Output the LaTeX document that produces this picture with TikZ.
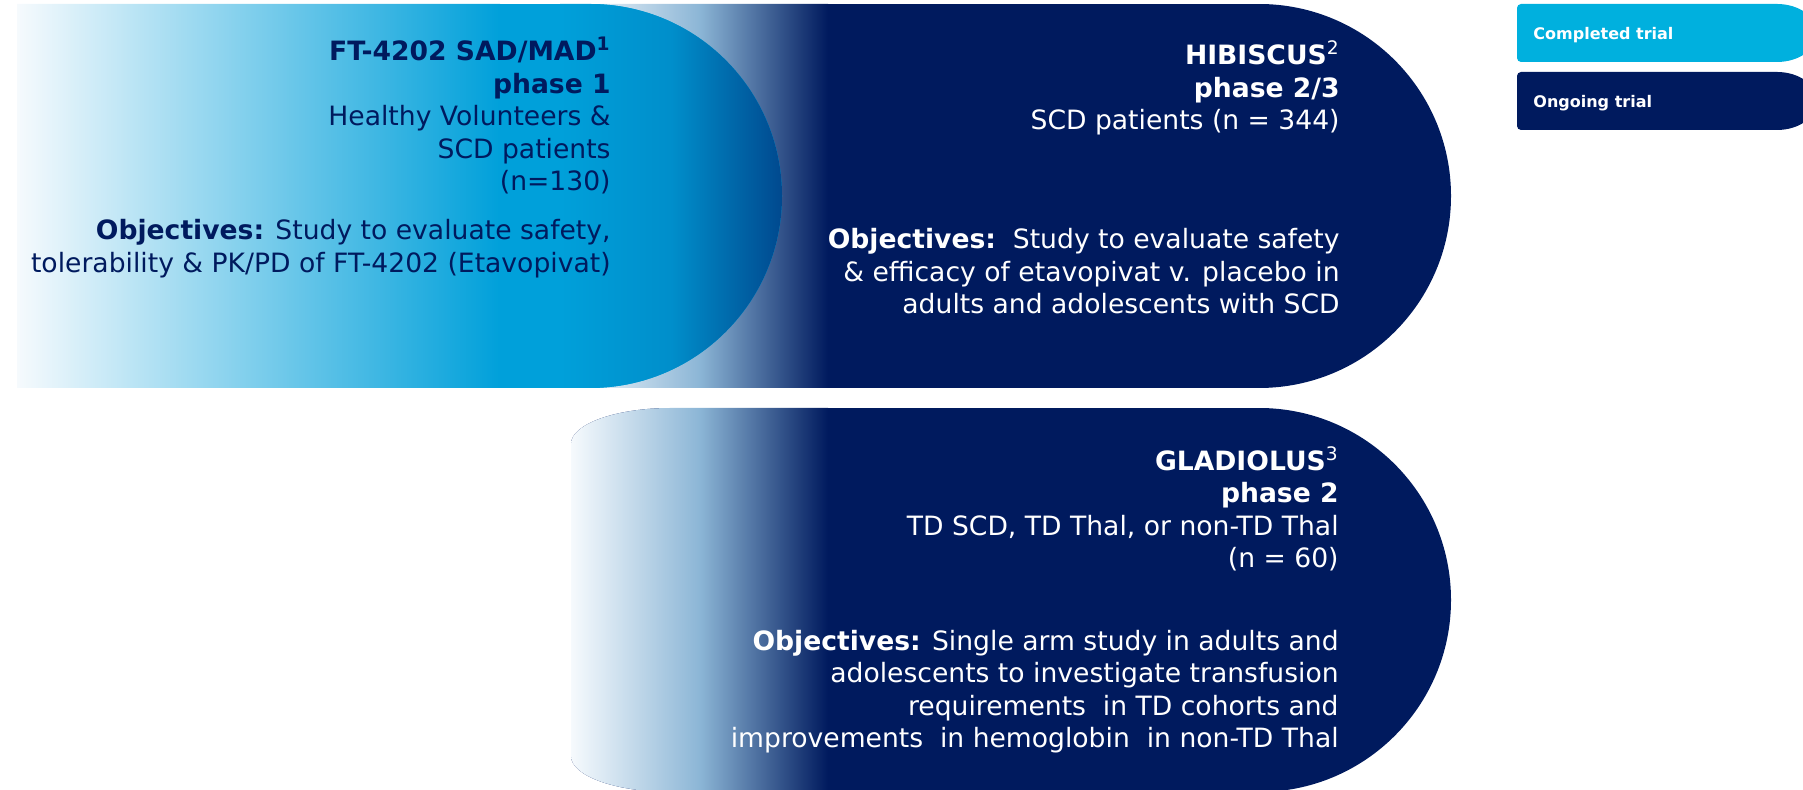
\documentclass[tikz,border=0pt]{standalone}
\usepackage{fontspec}
\setmainfont{DejaVu Sans}
\usepackage{tikz}
\usetikzlibrary{calc}
\definecolor{trialnavy}{RGB}{0,26,94}
\definecolor{trialcyan}{RGB}{0,160,218}
\definecolor{legendcyan}{RGB}{0,176,222}
\definecolor{fadeblue}{RGB}{140,182,214}
\definecolor{fadewhite}{RGB}{246,250,253}
\definecolor{capblue}{RGB}{0,72,142}

\begin{document}
\begin{tikzpicture}[x=0.5pt, y=0.5pt,
    trialtext/.style={align=right, inner sep=0pt, anchor=base east, font=\fontsize{13.3}{16.25}\selectfont},
    legendtext/.style={inner sep=0pt, anchor=base west, text=white, font=\fontsize{8}{9.6}\selectfont\bfseries},
    trialfade/.style={left color=fadewhite, right color=trialnavy, middle color=fadeblue}]
        \useasboundingbox (0,0) rectangle (1803,790);
        \clip (0,0) rectangle (1803,790);

        \begin{scope}
            \clip (671,382) -- (1259,382) arc[start angle=90, end angle=-90, radius=192] -- (671,-2) arc[start angle=270, end angle=180, x radius=100, y radius=36] -- (571,346) arc[start angle=180, end angle=90, x radius=100, y radius=36] -- cycle;
            \fill[trialnavy] (560,-2) rectangle (1460,382);
            \shade[trialfade] (571,-2) rectangle (828,382);
        \end{scope}

        \begin{scope}
            \clip (600,786) -- (1259,786) arc[start angle=90, end angle=-90, radius=192] -- (600,402) arc[start angle=270, end angle=180, radius=25] -- (575,761) arc[start angle=180, end angle=90, radius=25] -- cycle;
            \fill[trialnavy] (560,402) rectangle (1460,786);
            \shade[trialfade] (571,402) rectangle (828,786);
        \end{scope}

        \begin{scope}
            \clip (17,402) -- (17,786) -- (590,786) arc[start angle=90, end angle=-90, radius=192] -- cycle;
            \fill[trialcyan] (17,402) rectangle (790,786);
            \shade[left color=fadewhite, right color=trialcyan] (17,402) rectangle (500,786);
            \shade[left color=trialcyan, right color=capblue, middle color=trialcyan!80!capblue] (560,402) rectangle (783,786);
        \end{scope}

        \fill[legendcyan] (1517,732) -- (1517,782) arc[start angle=180, end angle=90, radius=4] -- (1777,786) arc[start angle=90, end angle=-90, x radius=40, y radius=29] -- (1521,728) arc[start angle=270, end angle=180, radius=4] -- cycle;
        \fill[trialnavy] (1517,664) -- (1517,714) arc[start angle=180, end angle=90, radius=4] -- (1777,718) arc[start angle=90, end angle=-90, x radius=40, y radius=29] -- (1521,660) arc[start angle=270, end angle=180, radius=4] -- cycle;
        \node (done) [legendtext] at (1533,750.5) {Completed trial};
        \node (ongoing) [legendtext] at (1533,682.5) {Ongoing trial};

        \node (ftinfo) [trialtext, text=trialnavy] at (611,599) {\textbf{FT-4202 SAD/MAD\textsuperscript{1}}\\ \textbf{phase 1}\\ Healthy Volunteers \&\\ SCD patients\\ (n=130)};
        \node (ftobj) [trialtext, text=trialnavy] at (611,517.5) {\textbf{Objectives:} Study to evaluate safety,\\ tolerability \& PK/PD of FT-4202 (Etavopivat)};

        \node (hibinfo) [trialtext, text=white] at (1340,660) {\textbf{HIBISCUS}\textsuperscript{2}\\ \textbf{phase 2/3}\\ SCD patients (n = 344)};
        \node (hibobj) [trialtext, text=white] at (1340,476) {\textbf{Objectives:}\ \ Study to evaluate safety\\ \& efficacy of etavopivat v. placebo in\\ adults and adolescents with SCD};

        \node (gladinfo) [trialtext, text=white] at (1339,222) {\textbf{GLADIOLUS}\textsuperscript{3}\\ \textbf{phase 2}\\ TD SCD, TD Thal, or non-TD Thal\\ (n = 60)};
        \node (gladobj) [trialtext, text=white] at (1339,42) {\textbf{Objectives:} Single arm study in adults and\\ adolescents to investigate transfusion\\ requirements\ \ in TD cohorts and\\ improvements\ \ in hemoglobin\ \ in non-TD Thal};
    \end{tikzpicture}
\end{document}
